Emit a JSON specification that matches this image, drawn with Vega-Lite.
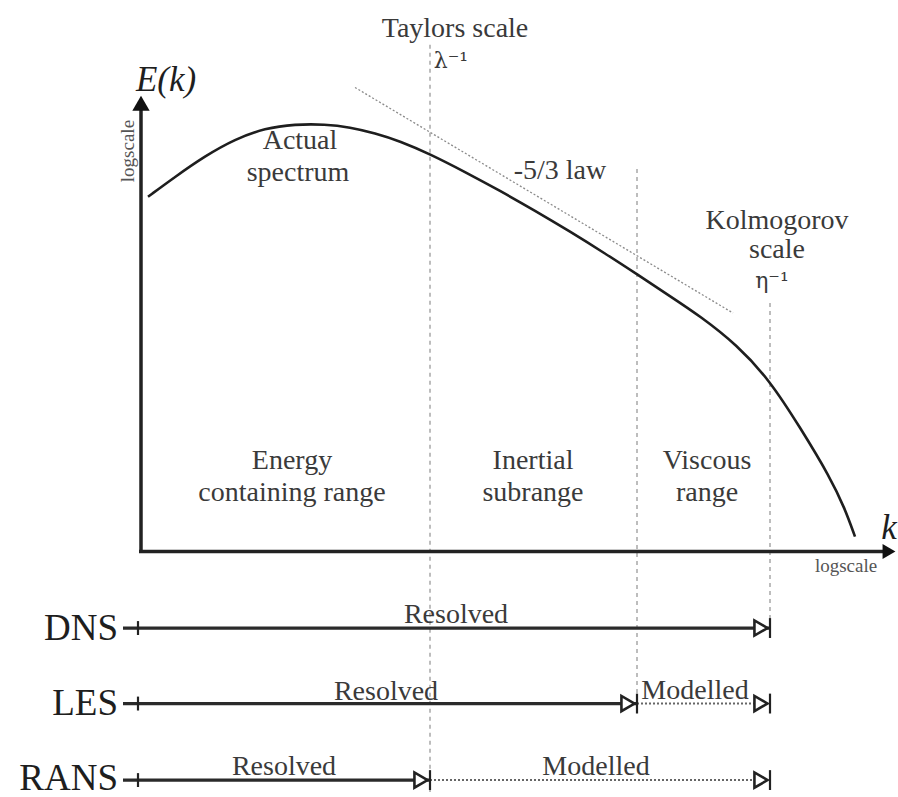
{
  "$schema": "https://vega.github.io/schema/vega-lite/v6.json",
  "width": 898,
  "height": 797,
  "autosize": {"type": "fit", "contains": "padding"},
  "padding": 0,
  "background": "white",
  "config": {"view": {"stroke": null}},
  "datasets": {
    "curve": [
      {"i": 0, "x": 148, "y": 198}, {"i": 1, "x": 175, "y": 178}, {"i": 2, "x": 205, "y": 157},
      {"i": 3, "x": 235, "y": 140}, {"i": 4, "x": 265, "y": 129}, {"i": 5, "x": 295, "y": 125},
      {"i": 6, "x": 325, "y": 125}, {"i": 7, "x": 350, "y": 128}, {"i": 8, "x": 375, "y": 134},
      {"i": 9, "x": 400, "y": 142}, {"i": 10, "x": 430, "y": 155}, {"i": 11, "x": 465, "y": 173},
      {"i": 12, "x": 500, "y": 192}, {"i": 13, "x": 535, "y": 212}, {"i": 14, "x": 570, "y": 233},
      {"i": 15, "x": 605, "y": 255}, {"i": 16, "x": 637, "y": 276}, {"i": 17, "x": 670, "y": 298},
      {"i": 18, "x": 700, "y": 318}, {"i": 19, "x": 737, "y": 347}, {"i": 20, "x": 770, "y": 383},
      {"i": 21, "x": 800, "y": 430}, {"i": 22, "x": 830, "y": 480}, {"i": 23, "x": 845, "y": 512},
      {"i": 24, "x": 855, "y": 540}
    ],
    "law": [{"x": 355, "y": 88, "x2": 733, "y2": 315}],
    "guides": [
      {"x": 430, "y": 45, "y2": 797},
      {"x": 637, "y": 170, "y2": 708},
      {"x": 770, "y": 305, "y2": 632}
    ],
    "axes": [
      {"x": 141, "y": 555, "x2": 141, "y2": 110},
      {"x": 139, "y": 555, "x2": 884, "y2": 555}
    ],
    "yhead": [{"x": 141, "y": 104}],
    "xhead": [{"x": 889, "y": 555}],
    "solid": [
      {"x": 123, "x2": 770, "y": 632},
      {"x": 123, "x2": 637, "y": 708},
      {"x": 123, "x2": 430, "y": 785}
    ],
    "dotted": [
      {"x": 637, "x2": 770, "y": 708},
      {"x": 430, "x2": 770, "y": 785}
    ],
    "bars": [
      {"x": 138, "y": 625, "y2": 639}, {"x": 138, "y": 701, "y2": 715}, {"x": 138, "y": 778, "y2": 792},
      {"x": 770, "y": 622, "y2": 642}, {"x": 637, "y": 698, "y2": 718}, {"x": 770, "y": 698, "y2": 718},
      {"x": 430, "y": 775, "y2": 795}, {"x": 770, "y": 775, "y2": 795}
    ],
    "heads": [
      {"x": 761, "y": 632}, {"x": 628, "y": 708}, {"x": 761, "y": 708},
      {"x": 421, "y": 785}, {"x": 761, "y": 785}
    ],
    "labels": [
      {"t": "Taylors scale", "x": 455, "y": 37},
      {"t": "Actual", "x": 300, "y": 150},
      {"t": "spectrum", "x": 298, "y": 182},
      {"t": "-5/3 law", "x": 560, "y": 180},
      {"t": "Kolmogorov", "x": 777, "y": 230},
      {"t": "scale", "x": 777, "y": 260},
      {"t": "Energy", "x": 292, "y": 472},
      {"t": "containing range", "x": 292, "y": 504},
      {"t": "Inertial", "x": 533, "y": 472},
      {"t": "subrange", "x": 533, "y": 504},
      {"t": "Viscous", "x": 707, "y": 472},
      {"t": "range", "x": 707, "y": 504},
      {"t": "Resolved", "x": 456, "y": 627},
      {"t": "Resolved", "x": 386, "y": 704},
      {"t": "Modelled", "x": 695, "y": 703},
      {"t": "Resolved", "x": 284, "y": 780},
      {"t": "Modelled", "x": 596, "y": 780}
    ],
    "greek": [
      {"t": "λ⁻¹", "x": 451, "y": 68},
      {"t": "η⁻¹", "x": 772, "y": 290}
    ],
    "methods": [
      {"t": "DNS", "x": 118, "y": 644},
      {"t": "LES", "x": 118, "y": 720},
      {"t": "RANS", "x": 118, "y": 795}
    ],
    "italic": [
      {"t": "E(k)", "x": 166, "y": 92},
      {"t": "k", "x": 889, "y": 542}
    ],
    "xlog": [{"t": "logscale", "x": 846, "y": 576}],
    "ylog": [{"t": "logscale", "x": 128, "y": 152}]
  },
  "encoding": {
    "x": {"field": "x", "type": "quantitative", "scale": {"domain": [0, 898], "nice": false, "zero": false}, "axis": null},
    "y": {"field": "y", "type": "quantitative", "scale": {"domain": [0, 797], "nice": false, "zero": false, "reverse": true}, "axis": null}
  },
  "layer": [
    {
      "data": {"name": "guides"},
      "mark": {"type": "rule", "color": "#9a9a9a", "strokeWidth": 1.3, "strokeDash": [4, 4]},
      "encoding": {"y2": {"field": "y2"}}
    },
    {
      "data": {"name": "law"},
      "mark": {"type": "rule", "color": "#8a8a8a", "strokeWidth": 1.3, "strokeDash": [2, 2]},
      "encoding": {"x2": {"field": "x2"}, "y2": {"field": "y2"}}
    },
    {
      "data": {"name": "curve"},
      "mark": {"type": "line", "color": "#1e1e1e", "strokeWidth": 2.6, "interpolate": "basis"},
      "encoding": {"order": {"field": "i", "type": "quantitative"}}
    },
    {
      "data": {"name": "axes"},
      "mark": {"type": "rule", "color": "#222222", "strokeWidth": 3.5},
      "encoding": {"x2": {"field": "x2"}, "y2": {"field": "y2"}}
    },
    {
      "data": {"name": "yhead"},
      "mark": {"type": "point", "shape": "triangle-up", "filled": true, "color": "#111111", "size": 300, "opacity": 1}
    },
    {
      "data": {"name": "xhead"},
      "mark": {"type": "point", "shape": "triangle-right", "filled": true, "color": "#111111", "size": 220, "opacity": 1}
    },
    {
      "data": {"name": "solid"},
      "mark": {"type": "rule", "color": "#2a2a2a", "strokeWidth": 3.2},
      "encoding": {"x2": {"field": "x2"}}
    },
    {
      "data": {"name": "dotted"},
      "mark": {"type": "rule", "color": "#666666", "strokeWidth": 2, "strokeDash": [2, 2]},
      "encoding": {"x2": {"field": "x2"}}
    },
    {
      "data": {"name": "bars"},
      "mark": {"type": "rule", "color": "#222222", "strokeWidth": 2.2},
      "encoding": {"y2": {"field": "y2"}}
    },
    {
      "data": {"name": "heads"},
      "mark": {"type": "point", "shape": "triangle-right", "filled": true, "color": "white", "stroke": "#222222", "strokeWidth": 2.6, "size": 230, "opacity": 1}
    },
    {
      "data": {"name": "labels"},
      "mark": {"type": "text", "font": "Liberation Serif", "fontSize": 28, "color": "#3a3a3a", "align": "center", "baseline": "alphabetic"},
      "encoding": {"text": {"field": "t"}}
    },
    {
      "data": {"name": "greek"},
      "mark": {"type": "text", "font": "DejaVu Serif", "fontSize": 22, "color": "#3a3a3a", "align": "center", "baseline": "alphabetic"},
      "encoding": {"text": {"field": "t"}}
    },
    {
      "data": {"name": "methods"},
      "mark": {"type": "text", "font": "Liberation Serif", "fontSize": 37, "color": "#1e1e1e", "align": "right", "baseline": "alphabetic"},
      "encoding": {"text": {"field": "t"}}
    },
    {
      "data": {"name": "italic"},
      "mark": {"type": "text", "font": "Liberation Serif", "fontStyle": "italic", "fontSize": 35, "color": "#1e1e1e", "align": "center", "baseline": "alphabetic"},
      "encoding": {"text": {"field": "t"}}
    },
    {
      "data": {"name": "xlog"},
      "mark": {"type": "text", "font": "Liberation Serif", "fontSize": 19, "color": "#555555", "align": "center", "baseline": "alphabetic"},
      "encoding": {"text": {"field": "t"}}
    },
    {
      "data": {"name": "ylog"},
      "mark": {"type": "text", "font": "Liberation Serif", "fontSize": 19, "color": "#555555", "align": "center", "baseline": "middle", "angle": 270},
      "encoding": {"text": {"field": "t"}}
    }
  ]
}
